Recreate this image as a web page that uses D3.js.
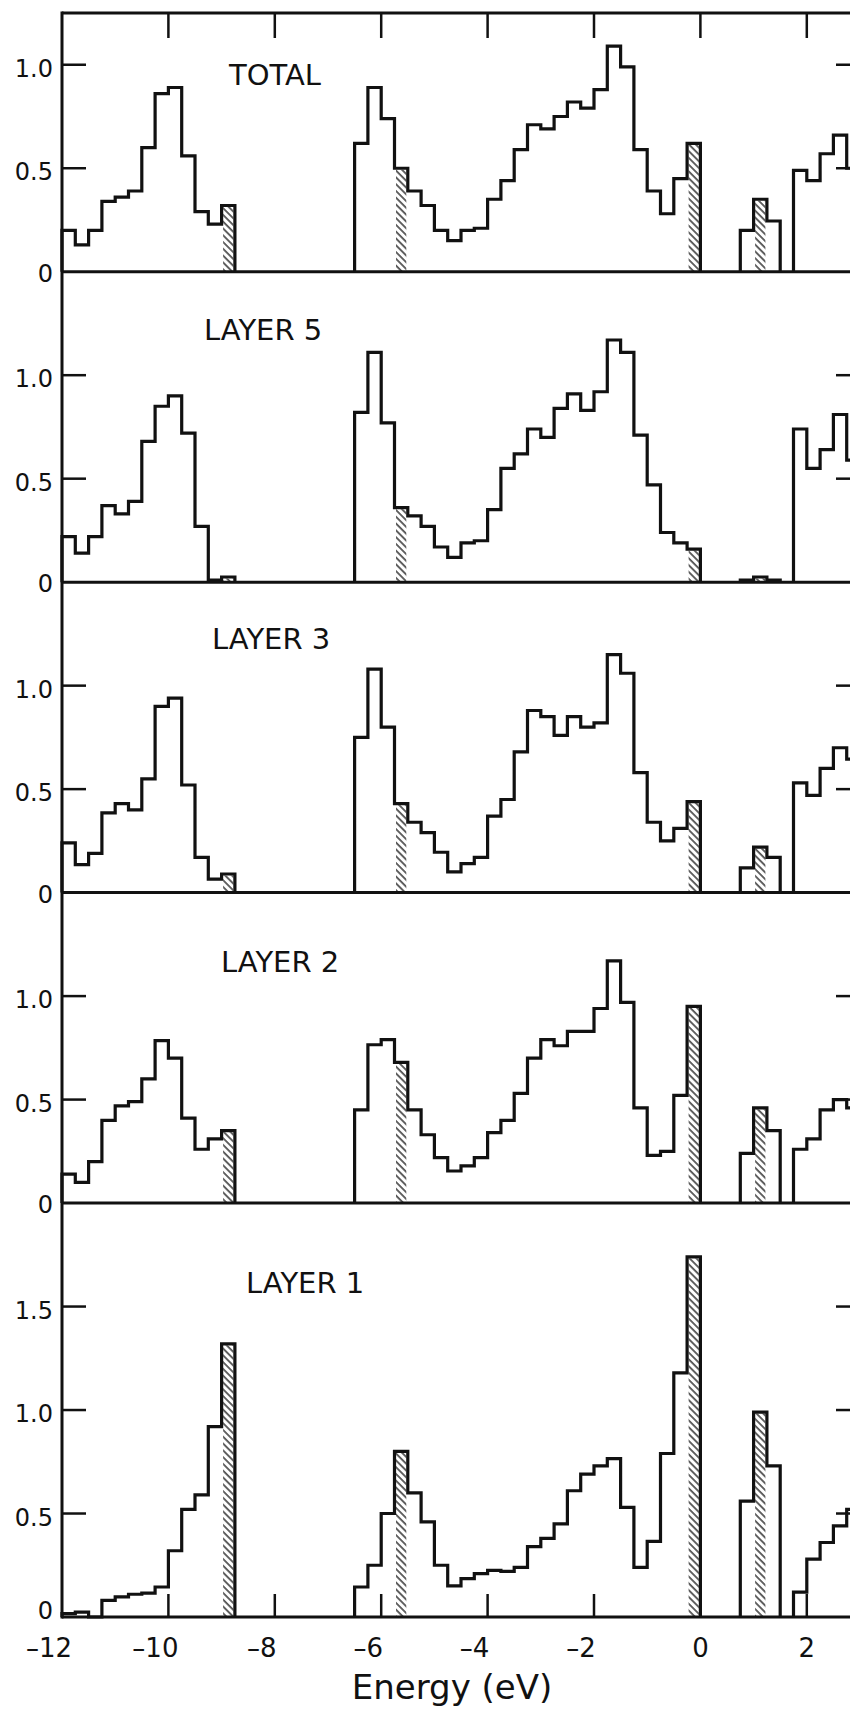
<!DOCTYPE html>
<html>
<head>
<meta charset="utf-8">
<script src="https://cdn.jsdelivr.net/npm/d3@7"></script>
<style>
  body { margin: 0; background: #fff; }
  svg { display: block; }
</style>
</head>
<body>
<script>
// bins are 0.25 eV wide, grouped in four runs separated by gaps
const binWidth = 0.25;
const segmentStarts = [-12, -6.5, 0.75, 1.75];
const segmentBins = [13, 26, 3, 5];
const hatchedBins = [-9, -5.75, -0.25, 1.0];

const panelNames = ["TOTAL", "LAYER 5", "LAYER 3", "LAYER 2", "LAYER 1"];
const panelMax = [1.25, 1.5, 1.5, 1.5, 2.0];
const panelTicks = [
  [0, 0.5, 1.0],
  [0, 0.5, 1.0],
  [0, 0.5, 1.0],
  [0, 0.5, 1.0],
  [0, 0.5, 1.0, 1.5]
];
const energyTicks = [-12, -10, -8, -6, -4, -2, 0, 2];

const totalDos = [
  0.20, 0.13, 0.20, 0.34, 0.36, 0.39, 0.60, 0.86, 0.89, 0.56, 0.29, 0.23, 0.32,
  0.62, 0.89, 0.74, 0.50, 0.39, 0.32, 0.20, 0.15, 0.20, 0.21, 0.35, 0.44, 0.59,
  0.71, 0.69, 0.75, 0.82, 0.79, 0.88, 1.09, 0.99, 0.59, 0.39, 0.28, 0.45, 0.62,
  0.20, 0.35, 0.245,
  0.49, 0.44, 0.57, 0.66, 0.50
];
const layer5Dos = [
  0.22, 0.14, 0.22, 0.37, 0.33, 0.39, 0.68, 0.85, 0.90, 0.72, 0.27, 0.01, 0.025,
  0.82, 1.11, 0.77, 0.36, 0.32, 0.27, 0.17, 0.12, 0.19, 0.20, 0.35, 0.55, 0.62,
  0.74, 0.70, 0.84, 0.91, 0.83, 0.92, 1.17, 1.11, 0.71, 0.47, 0.24, 0.19, 0.16,
  0.01, 0.025, 0.01,
  0.74, 0.55, 0.64, 0.81, 0.59
];
const layer3Dos = [
  0.24, 0.135, 0.19, 0.385, 0.43, 0.40, 0.55, 0.90, 0.94, 0.52, 0.17, 0.065, 0.09,
  0.75, 1.08, 0.80, 0.43, 0.34, 0.29, 0.195, 0.10, 0.14, 0.17, 0.37, 0.45, 0.68,
  0.88, 0.85, 0.76, 0.85, 0.80, 0.82, 1.15, 1.06, 0.58, 0.34, 0.25, 0.31, 0.44,
  0.12, 0.22, 0.17,
  0.53, 0.47, 0.60, 0.70, 0.645
];
const layer2Dos = [
  0.14, 0.10, 0.20, 0.40, 0.47, 0.49, 0.60, 0.785, 0.70, 0.41, 0.26, 0.31, 0.35,
  0.45, 0.765, 0.79, 0.68, 0.45, 0.33, 0.22, 0.155, 0.18, 0.22, 0.34, 0.40, 0.53,
  0.70, 0.79, 0.76, 0.83, 0.83, 0.94, 1.17, 0.97, 0.46, 0.23, 0.25, 0.52, 0.95,
  0.24, 0.46, 0.35,
  0.26, 0.31, 0.45, 0.50, 0.46
];
const layer1Dos = [
  0.016, 0.024, 0, 0.08, 0.097, 0.11, 0.115, 0.145, 0.32, 0.52, 0.59, 0.92, 1.32,
  0.145, 0.25, 0.50, 0.80, 0.60, 0.46, 0.25, 0.15, 0.185, 0.21, 0.225, 0.22, 0.24,
  0.34, 0.38, 0.45, 0.61, 0.69, 0.73, 0.765, 0.53, 0.24, 0.365, 0.79, 1.18, 1.74,
  0.56, 0.99, 0.73,
  0.12, 0.28, 0.36, 0.44, 0.52
];
const panelValues = [totalDos, layer5Dos, layer3Dos, layer2Dos, layer1Dos];

// where each panel name sits: left edge in px, baseline below panel top
const nameLayout = [
  { x: 229, dy: 72 },
  { x: 204, dy: 68 },
  { x: 212, dy: 67 },
  { x: 221, dy: 79 },
  { x: 246, dy: 90 }
];

class LayerDosChart {
  constructor() {
    this.width = 850;
    this.height = 1709;
    this.left = 62;
    this.right = 860;
    this.top = 13;
    this.bottom = 1617;
    this.font = "'DejaVu Sans', sans-serif";
    this.ink = "#111";

    this.setupSvg();
    this.drawPanels();
    this.drawEnergyAxis();
  }

  setupSvg() {
    this.svg = d3.select("body")
      .append("svg")
      .attr("width", this.width)
      .attr("height", this.height);

    this.svg.append("rect")
      .attr("width", this.width)
      .attr("height", this.height)
      .attr("fill", "#fff");

    let pattern = this.svg.append("defs")
      .append("pattern")
      .attr("id", "hatch")
      .attr("patternUnits", "userSpaceOnUse")
      .attr("width", 4.8)
      .attr("height", 4.8)
      .attr("patternTransform", "rotate(-45)");
    pattern.append("line")
      .attr("x1", 1).attr("y1", 0)
      .attr("x2", 1).attr("y2", 4.8)
      .attr("stroke", this.ink)
      .attr("stroke-width", 1.3);

    this.xScale = d3.scaleLinear()
      .domain([-12, 3])
      .range([this.left, this.right]);

    // all panels share the same px per unit of DOS
    this.unit = (this.bottom - this.top) / d3.sum(panelMax);
  }

  binsFor(values) {
    let bins = [];
    let k = 0;
    segmentStarts.forEach((start, s) => {
      let run = [];
      for (let i = 0; i < segmentBins[s]; i++) {
        run.push({ x0: start + i * binWidth, x1: start + (i + 1) * binWidth, v: values[k++] });
      }
      bins.push(run);
    });
    return bins;
  }

  drawPanels() {
    let panelTop = this.top;

    panelNames.forEach((name, p) => {
      let base = panelTop + panelMax[p] * this.unit;
      let yScale = d3.scaleLinear()
        .domain([0, panelMax[p]])
        .range([base, panelTop]);
      let g = this.svg.append("g").attr("class", "panel");
      let runs = this.binsFor(panelValues[p]);

      // hatched component bars
      g.selectAll(".hatch")
        .data(d3.merge(runs).filter(d => { return hatchedBins.some(h => Math.abs(h - d.x0) < 1e-6) && d.v > 0 }))
        .enter().append("rect")
        .attr("class", "hatch")
        .attr("x", d => { return this.xScale(d.x0) + 1.5 })
        .attr("y", d => { return yScale(d.v) + 1.5 })
        .attr("width", d => { return this.xScale(d.x1) - this.xScale(d.x0) - 3 })
        .attr("height", d => { return Math.max(0, base - yScale(d.v) - 1.5) })
        .attr("fill", "url(#hatch)");

      let line = d3.line()
        .x(d => { return this.xScale(d[0]) })
        .y(d => { return yScale(d[1]) })
        .curve(d3.curveStepAfter);

      g.selectAll(".hist")
        .data(runs)
        .enter().append("path")
        .attr("class", "hist")
        .attr("d", run => {
          let pts = [[run[0].x0, 0]];
          run.forEach(b => { pts.push([b.x0, b.v]) });
          let last = run[run.length - 1];
          pts.push([last.x1, last.v]);
          pts.push([last.x1, 0]);
          return line(pts);
        })
        .attr("fill", "none")
        .attr("stroke", this.ink)
        .attr("stroke-width", 3.2)
        .attr("stroke-linejoin", "miter");

      // y ticks, inward on both sides
      let inner = panelTicks[p].filter(t => t > 0);
      g.selectAll(".ytick-l")
        .data(inner)
        .enter().append("line")
        .attr("x1", this.left).attr("x2", this.left + 24)
        .attr("y1", d => { return yScale(d) })
        .attr("y2", d => { return yScale(d) })
        .attr("stroke", this.ink)
        .attr("stroke-width", 2.5);
      g.selectAll(".ytick-r")
        .data(inner)
        .enter().append("line")
        .attr("x1", this.right).attr("x2", this.right - 24)
        .attr("y1", d => { return yScale(d) })
        .attr("y2", d => { return yScale(d) })
        .attr("stroke", this.ink)
        .attr("stroke-width", 2.5);

      let lastPanel = p === panelNames.length - 1;
      g.selectAll(".ylabel")
        .data(panelTicks[p])
        .enter().append("text")
        .attr("x", 53)
        .attr("y", d => { return yScale(d) + (d === 0 ? (lastPanel ? -5 : 3) : 5) })
        .attr("text-anchor", "end")
        .attr("dominant-baseline", "middle")
        .attr("font-family", this.font)
        .attr("font-size", 24)
        .attr("fill", this.ink)
        .text(d => { return d === 0 ? "0" : d3.format(".1f")(d) });

      g.append("text")
        .attr("x", nameLayout[p].x)
        .attr("y", panelTop + nameLayout[p].dy)
        .attr("font-family", this.font)
        .attr("font-size", 29)
        .attr("fill", this.ink)
        .text(name);

      // baseline doubles as the next panel's top edge
      g.append("line")
        .attr("x1", this.left).attr("x2", this.right)
        .attr("y1", base).attr("y2", base)
        .attr("stroke", this.ink)
        .attr("stroke-width", 3);

      panelTop = base;
    });

    this.svg.append("line")
      .attr("x1", this.left).attr("x2", this.right)
      .attr("y1", this.top).attr("y2", this.top)
      .attr("stroke", this.ink)
      .attr("stroke-width", 3);

    this.svg.append("line")
      .attr("x1", this.left).attr("x2", this.left)
      .attr("y1", this.top - 1.5).attr("y2", this.bottom + 1.5)
      .attr("stroke", this.ink)
      .attr("stroke-width", 3);

    this.svg.append("line")
      .attr("x1", this.right).attr("x2", this.right)
      .attr("y1", this.top).attr("y2", this.bottom)
      .attr("stroke", this.ink)
      .attr("stroke-width", 3);
  }

  drawEnergyAxis() {
    let inner = energyTicks.filter(t => t > -12);

    this.svg.selectAll(".xtick-top")
      .data(inner)
      .enter().append("line")
      .attr("x1", d => { return this.xScale(d) })
      .attr("x2", d => { return this.xScale(d) })
      .attr("y1", this.top).attr("y2", this.top + 25)
      .attr("stroke", this.ink)
      .attr("stroke-width", 2.5);

    this.svg.selectAll(".xtick-bottom")
      .data(inner)
      .enter().append("line")
      .attr("x1", d => { return this.xScale(d) })
      .attr("x2", d => { return this.xScale(d) })
      .attr("y1", this.bottom).attr("y2", this.bottom - 23)
      .attr("stroke", this.ink)
      .attr("stroke-width", 2.5);

    this.svg.selectAll(".xlabel")
      .data(energyTicks)
      .enter().append("text")
      .attr("x", d => { return this.xScale(d) + (d < 0 ? -13 : 0) })
      .attr("y", this.bottom + 40)
      .attr("text-anchor", "middle")
      .attr("font-family", this.font)
      .attr("font-size", 26)
      .attr("fill", this.ink)
      .text(d => { return d < 0 ? "\u2013" + Math.abs(d) : d });

    this.svg.append("text")
      .attr("x", 452)
      .attr("y", this.bottom + 82)
      .attr("text-anchor", "middle")
      .attr("font-family", this.font)
      .attr("font-size", 34)
      .attr("fill", this.ink)
      .text("Energy (eV)");
  }
}

new LayerDosChart();
</script>
</body>
</html>
